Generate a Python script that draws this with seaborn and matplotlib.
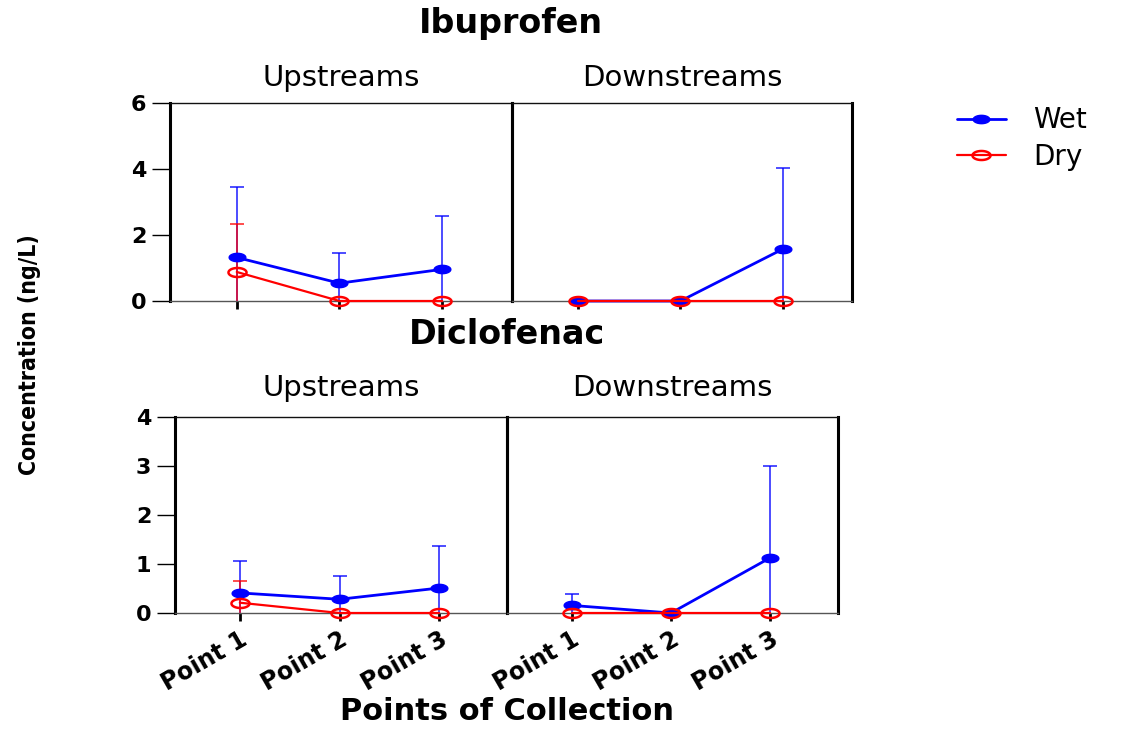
import numpy as np
import pandas as pd
import matplotlib
matplotlib.use("Agg")
import matplotlib.pyplot as plt
from matplotlib.path import Path
from matplotlib.lines import Line2D
import seaborn as sns

# ---------------- data ----------------
points = ["Point 1", "Point 2", "Point 3"]
sites = ["Upstreams", "Downstreams"]
conditions = ["Wet", "Dry"]

ibu_up_wet = [1.32, 0.54, 0.96]
ibu_up_wet_sd = [2.12, 0.90, 1.62]
ibu_up_dry = [0.88, 0.0, 0.0]
ibu_up_dry_sd = [1.45, 0.0, 0.0]
ibu_down_wet = [0.0, 0.0, 1.57]
ibu_down_wet_sd = [0.0, 0.0, 2.47]
ibu_down_dry = [0.0, 0.0, 0.0]
ibu_down_dry_sd = [0.0, 0.0, 0.0]

dic_up_wet = [0.41, 0.28, 0.51]
dic_up_wet_sd = [0.65, 0.47, 0.85]
dic_up_dry = [0.21, 0.0, 0.0]
dic_up_dry_sd = [0.45, 0.0, 0.0]
dic_down_wet = [0.155, 0.0, 1.13]
dic_down_wet_sd = [0.235, 0.0, 1.87]
dic_down_dry = [0.0, 0.0, 0.0]
dic_down_dry_sd = [0.0, 0.0, 0.0]

ibu_yticks = [0, 2, 4, 6]
dic_yticks = [0, 1, 2, 3, 4]

BLUE = "#0000FF"
RED = "#FF0000"

# ---------------- style ----------------
sns.set_theme(style="white")
plt.rcParams["font.family"] = ["DejaVu Sans"]
for k in ("text.color", "axes.labelcolor", "xtick.color", "ytick.color",
          "xtick.labelcolor", "ytick.labelcolor"):
    plt.rcParams[k] = "black"

theta = np.linspace(0, 2 * np.pi, 80)
ELLIPSE = Path(np.column_stack([np.cos(theta), 0.5 * np.sin(theta)]), closed=True)

fig = plt.figure(figsize=(11.37, 7.29), dpi=100)
W, H = 1137.0, 729.0


def box(x0, x1, ytop, ybot):
    return [x0 / W, 1 - ybot / H, (x1 - x0) / W, (ybot - ytop) / H]


def make_df(wet, wet_sd, dry, dry_sd):
    rows = []
    for cond, vals, sds in (("Wet", wet, wet_sd), ("Dry", dry, dry_sd)):
        for i, p in enumerate(points):
            rows.append({"pos": i + 1, "point": p, "condition": cond,
                         "conc": vals[i], "sd": sds[i]})
    return pd.DataFrame(rows)


def draw(ax, df, ymax, yticks, site, left, bottom, sub_off):
    ax.patch.set_visible(False)
    for cond, col in (("Wet", BLUE), ("Dry", RED)):
        sub = df[df.condition == cond]
        m = sub[sub.sd > 0]
        if len(m):
            ax.errorbar(m.pos, m.conc, yerr=m.sd, fmt="none", ecolor=col,
                        elinewidth=1.4, capsize=5, capthick=1.4, alpha=0.7,
                        zorder=2)
    wet = df[df.condition == "Wet"]
    dry = df[df.condition == "Dry"]
    sns.lineplot(data=wet, x="pos", y="conc", ax=ax, color=BLUE,
                 marker=ELLIPSE, markersize=12, mfc=BLUE, mec=BLUE, mew=1,
                 lw=2.0, clip_on=False, zorder=3, errorbar=None)
    sns.lineplot(data=dry, x="pos", y="conc", ax=ax, color=RED,
                 marker=ELLIPSE, markersize=13, mfc="none", mec=RED, mew=1.8,
                 lw=1.6, clip_on=False, zorder=4, errorbar=None)
    ax.set_xlim(0.35, 3.68)
    ax.set_ylim(0, ymax)
    ax.set_xlabel("")
    ax.set_ylabel("")
    ax.set_xticks([1, 2, 3])
    ax.tick_params(axis="x", direction="out", length=6, width=2,
                   color="black", bottom=True)
    if bottom:
        ax.set_xticklabels(points, rotation=30, ha="right",
                           rotation_mode="anchor", fontsize=17,
                           fontweight="bold")
        ax.tick_params(axis="x", pad=4)
    else:
        ax.set_xticklabels([])
    ax.set_yticks(yticks)
    if left:
        ax.set_yticklabels([str(t) for t in yticks], fontsize=16,
                           fontweight="bold")
        ax.tick_params(axis="y", direction="out", length=13, width=1,
                       color="black", left=True, pad=4)
    else:
        ax.tick_params(axis="y", left=False, labelleft=False)
    for s in ("left", "right"):
        ax.spines[s].set_linewidth(2.2)
        ax.spines[s].set_color("black")
        ax.spines[s].set_visible(True)
    ax.spines["top"].set_linewidth(1.0)
    ax.spines["top"].set_color("#111111")
    ax.spines["bottom"].set_linewidth(1.0)
    ax.spines["bottom"].set_color("#555555")
    ax.annotate(site, xy=(0.5, 1), xycoords="axes fraction",
                xytext=(0, sub_off), textcoords="offset points",
                ha="center", va="center", fontsize=21, color="black")


ax1 = fig.add_axes(box(170, 512, 103, 301))
ax2 = fig.add_axes(box(512, 852, 103, 301))
ax3 = fig.add_axes(box(175, 507, 417, 613))
ax4 = fig.add_axes(box(507, 838, 417, 613))

draw(ax1, make_df(ibu_up_wet, ibu_up_wet_sd, ibu_up_dry, ibu_up_dry_sd),
     6, ibu_yticks, sites[0], True, False, 18)
draw(ax2, make_df(ibu_down_wet, ibu_down_wet_sd, ibu_down_dry, ibu_down_dry_sd),
     6, ibu_yticks, sites[1], False, False, 18)
draw(ax3, make_df(dic_up_wet, dic_up_wet_sd, dic_up_dry, dic_up_dry_sd),
     4, dic_yticks, sites[0], True, True, 21)
draw(ax4, make_df(dic_down_wet, dic_down_wet_sd, dic_down_dry, dic_down_dry_sd),
     4, dic_yticks, sites[1], False, True, 21)

fig.text(511 / W, 1 - 24 / H, "Ibuprofen", ha="center", va="center",
         fontsize=24, fontweight="bold")
fig.text(507 / W, 1 - 335 / H, "Diclofenac", ha="center", va="center",
         fontsize=24, fontweight="bold")
fig.text(507 / W, 1 - 712 / H, "Points of Collection", ha="center",
         va="center", fontsize=22, fontweight="bold")
fig.text(30 / W, 1 - 355 / H, "Concentration (ng/L)", ha="center",
         va="center", rotation=90, fontsize=16.5, fontweight="bold",
         family="DejaVu Sans", fontstretch="condensed")

handles = [
    Line2D([], [], color=BLUE, lw=2.0, marker=ELLIPSE, markersize=12,
           mfc=BLUE, mec=BLUE),
    Line2D([], [], color=RED, lw=1.6, marker=ELLIPSE, markersize=13,
           mfc="none", mec=RED, mew=1.8),
]
fig.legend(handles, conditions, loc="center left",
           bbox_to_anchor=(957 / W, 1 - 138.5 / H), frameon=False,
           fontsize=20, handlelength=1.75, handletextpad=1.0,
           labelspacing=0.3, borderpad=0, borderaxespad=0)

fig.savefig("out.png", dpi=100)
